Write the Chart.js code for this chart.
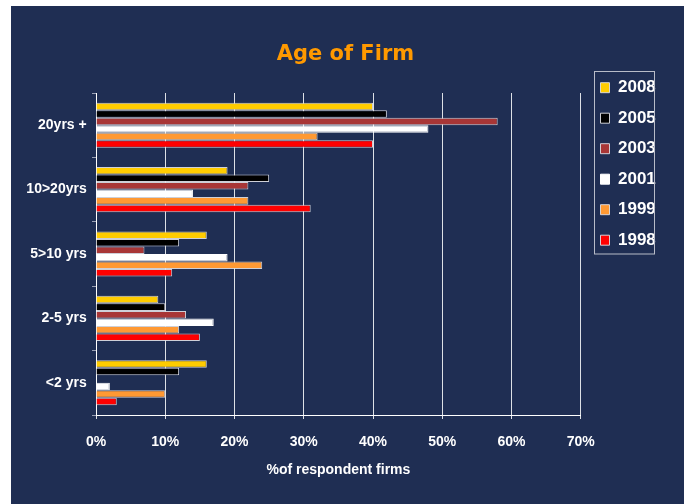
<!DOCTYPE html>
<html>
<head>
<meta charset="utf-8">
<script src="https://cdn.jsdelivr.net/npm/chart.js@4"></script>
<style>
  html, body { margin: 0; padding: 0; background: #fff; }
  #panel { position: absolute; left: 11px; top: 6px; width: 673px; height: 498px; background: #1f2e53; }
</style>
</head>
<body>
<div id="panel"><canvas id="ageChart" width="673" height="498"></canvas></div>
<script>
// categories and series (% of respondent firms)
var categories = ['20yrs +', '10>20yrs', '5>10 yrs', '2-5 yrs', '<2 yrs'];
var years = ['2008', '2005', '2003', '2001', '1999', '1998'];
var values2008 = [40, 19, 16, 9, 16];
var values2005 = [42, 25, 12, 10, 12];
var values2003 = [58, 22, 7, 13, 0];
var values2001 = [48, 14, 19, 17, 2];
var values1999 = [32, 22, 24, 12, 10];
var values1998 = [40, 31, 11, 15, 3];
var xTicks = [0, 10, 20, 30, 40, 50, 60, 70];

var seriesValues = [values2008, values2005, values2003, values2001, values1999, values1998];
var seriesColors = ['#ffcc00', '#000000', '#a83636', '#ffffff', '#ff9933', '#ff0000'];

Chart.defaults.font.family = "'Liberation Sans', Arial, sans-serif";
Chart.defaults.font.weight = 'bold';
Chart.defaults.color = '#ffffff';

var legendPad = 13.5;

// nudge the legend right, re-centre the title, and draw the legend frame
var legendFrame = {
    id: 'legendFrame',
    afterLayout: function (chart) {
        chart.legend.left += 6.2;
        chart.legend.right += 6.2;
        chart.titleBlock.right += 30;
    },
    afterDraw: function (chart) {
        var L = chart.legend;
        var ctx = chart.ctx;
        var top = L.top + L._computeTitleHeight() + legendPad;
        ctx.save();
        ctx.strokeStyle = '#b8bcc8';
        ctx.lineWidth = 1;
        ctx.strokeRect(Math.round(L.left + legendPad - 6.4) + 0.5, Math.round(top - 8.5) + 0.5, 60, 182.5);
        ctx.restore();
    }
};

var ctx = document.getElementById('ageChart').getContext('2d');

var ageChart = new Chart(ctx, {
    type: 'bar',
    data: {
        labels: categories,
        datasets: years.map(function (y, i) {
            return {
                label: y,
                data: seriesValues[i],
                backgroundColor: seriesColors[i],
                borderColor: i === 3 ? '#ffffff' : 'rgba(225,225,230,0.9)',
                borderWidth: 1,
                categoryPercentage: 0.7,
                barPercentage: 1.0
            };
        })
    },
    options: {
        indexAxis: 'y',
        responsive: false,
        animation: false,
        devicePixelRatio: 1,
        layout: {
            padding: { left: 0, right: 34.2, top: 0, bottom: 0 }
        },
        scales: {
            x: {
                min: 0,
                max: 70,
                afterBuildTicks: function (scale) {
                    scale.ticks = xTicks.map(function (v) { return { value: v }; });
                },
                afterFit: function (scale) { scale.height = 89; },
                grid: {
                    color: 'rgba(255,255,255,0.85)',
                    lineWidth: 1,
                    tickLength: 4,
                    drawTicks: true
                },
                border: { color: '#ffffff', width: 1 },
                ticks: {
                    padding: 14.4,
                    font: { size: 14, weight: 'bold' },
                    color: '#ffffff',
                    callback: function (v) { return v + '%'; }
                },
                title: {
                    display: true,
                    text: '%of respondent firms',
                    color: '#ffffff',
                    font: { size: 14, weight: 'bold' },
                    padding: { top: 4, bottom: 25.8 }
                }
            },
            y: {
                afterFit: function (scale) { scale.width = 85; },
                grid: {
                    drawOnChartArea: false,
                    drawTicks: true,
                    tickLength: 4,
                    color: '#9aa0b4',
                    offset: true
                },
                border: { color: '#ffffff', width: 1 },
                ticks: {
                    padding: 5.3,
                    font: { size: 14, weight: 'bold' },
                    color: '#ffffff'
                }
            }
        },
        plugins: {
            title: {
                display: true,
                text: 'Age of Firm',
                color: '#ff9900',
                font: { family: "'Comic Sans MS', 'DejaVu Sans', sans-serif", size: 21, weight: 'bold' },
                padding: { top: 36, bottom: 25.8 }
            },
            legend: {
                position: 'right',
                align: 'start',
                maxWidth: 69,
                title: {
                    display: true,
                    text: '',
                    font: { size: 12 },
                    padding: { top: 45.3, bottom: 0 }
                },
                labels: {
                    boxWidth: 9,
                    boxHeight: 10,
                    padding: legendPad,
                    color: '#ffffff',
                    font: { size: 17, weight: 'bold' }
                }
            },
            tooltip: { enabled: false }
        }
    },
    plugins: [legendFrame]
});
</script>
</body>
</html>
